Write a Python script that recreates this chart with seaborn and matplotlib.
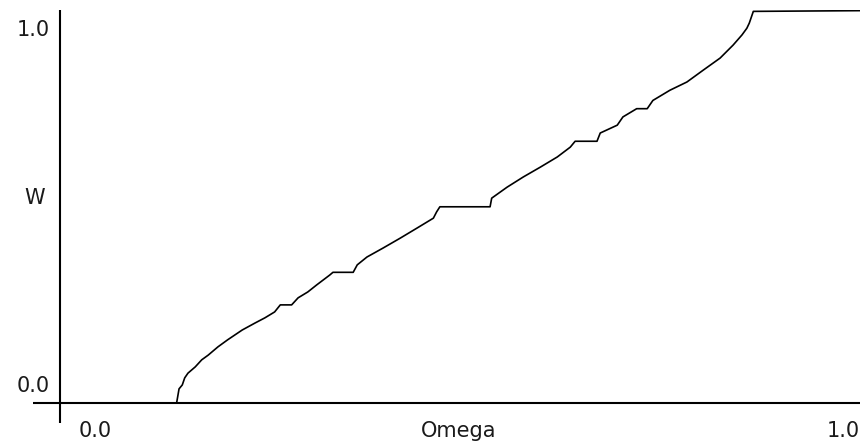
import matplotlib
matplotlib.use('Agg')
import matplotlib.pyplot as plt
import seaborn as sns
import pandas as pd

sns.set_theme(style='white')
plt.rcParams['font.family'] = ['DejaVu Sans']

# winding number W against Omega (staircase)
omega = [0.0, 0.144, 0.147, 0.151, 0.154, 0.158, 0.167, 0.175, 0.183, 0.195,
         0.207, 0.225, 0.241, 0.253, 0.265, 0.272, 0.286, 0.294, 0.306, 0.317,
         0.333, 0.337, 0.362, 0.367, 0.379, 0.399, 0.420, 0.441, 0.461, 0.465,
         0.469, 0.531, 0.533, 0.552, 0.572, 0.593, 0.614, 0.630, 0.636, 0.663,
         0.667, 0.688, 0.695, 0.712, 0.725, 0.732, 0.753, 0.774, 0.794, 0.815,
         0.831, 0.842, 0.848, 0.851, 0.856, 0.856, 1.0]
w = [0.0, 0.0, 0.036, 0.046, 0.064, 0.076, 0.092, 0.110, 0.122, 0.143,
     0.161, 0.186, 0.204, 0.217, 0.232, 0.250, 0.250, 0.268, 0.283, 0.301,
     0.326, 0.333, 0.333, 0.352, 0.372, 0.395, 0.420, 0.446, 0.471, 0.487,
     0.500, 0.500, 0.522, 0.550, 0.576, 0.601, 0.627, 0.652, 0.667, 0.667,
     0.688, 0.708, 0.729, 0.750, 0.750, 0.771, 0.797, 0.818, 0.848, 0.879,
     0.912, 0.938, 0.955, 0.968, 0.996, 1.0, 1.0]

df = pd.DataFrame({'Omega': omega, 'W': w})

W_PX, H_PX = 860, 443
fig = plt.figure(figsize=(W_PX / 100, H_PX / 100), dpi=100)
ax = fig.add_axes([33 / W_PX, 20 / H_PX, 827 / W_PX, 413 / H_PX])

sns.lineplot(data=df, x='Omega', y='W', sort=False, color='black',
             linewidth=1.2, ax=ax)

ax.set_xlim(-0.0333, 0.9877)
ax.set_ylim(-0.051, 1.0015)

# cross-style axes
ax.axhline(0, color='black', linewidth=1.5)
ax.axvline(0, color='black', linewidth=1.5)
for s in ax.spines.values():
    s.set_visible(False)
ax.set_xticks([])
ax.set_yticks([])
ax.set_xlabel('')
ax.set_ylabel('')


def put(text, x, y):
    fig.text(x / W_PX, 1 - y / H_PX, text, ha='center', va='center',
             fontsize=15, color='#1a1a1a')


put('1.0', 33, 30)
put('W', 35, 198)
put('0.0', 33, 386)
put('0.0', 95, 431)
put('Omega', 459, 431)
put('1.0', 843, 431)

fig.savefig('out.png', dpi=100)
